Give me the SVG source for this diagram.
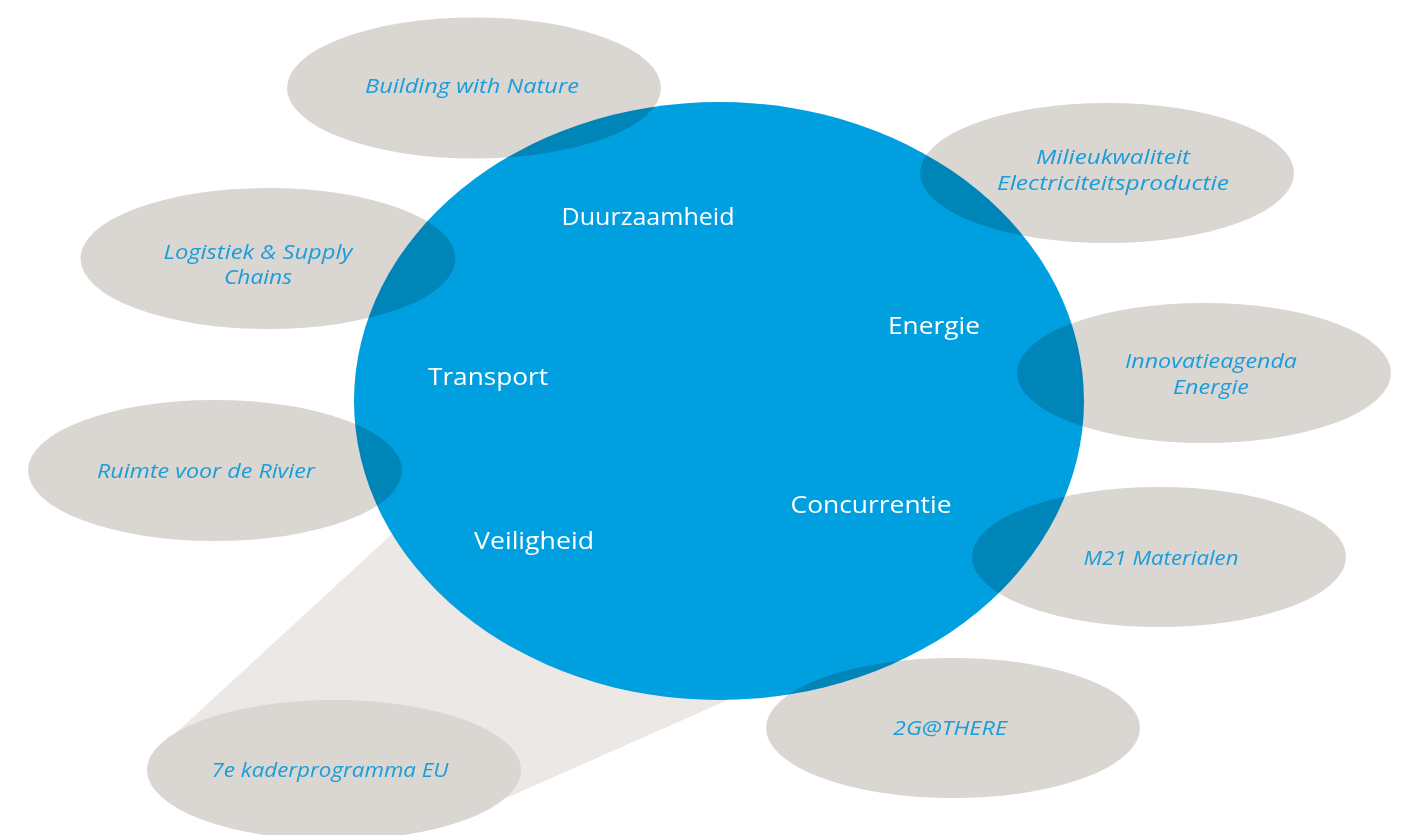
<svg xmlns="http://www.w3.org/2000/svg" width="1410" height="835" viewBox="0 0 1410 835">
<style>
.sat{fill:#DAD6D2;mix-blend-mode:multiply}
.sat0{fill:#DAD6D2}
.core{fill:#009FE0}
.beam{fill:#ECE8E5}
.lbl{font-family:"Open Sans","Liberation Sans",sans-serif;font-style:italic;font-size:20px;fill:#1A9DDA;text-anchor:middle}
.in{font-family:"Open Sans","Liberation Sans",sans-serif;font-size:24px;fill:#FFFFFF;text-anchor:middle}
</style>
<rect width="1410" height="835" fill="#FFFFFF"/>
<g id="connectors">
<polygon class="beam" points="166,742 430,499 780,677 495,803 330,770"/>
</g>
<g id="node-7e">
<ellipse class="sat0" cx="334" cy="770" rx="187" ry="70"/>
<text class="lbl" x="330" y="777" textLength="237" lengthAdjust="spacingAndGlyphs">7e kaderprogramma EU</text>
</g>
<g id="node-center">
<ellipse class="core" cx="719" cy="401" rx="365" ry="299"/>
<text class="in" x="648" y="225" textLength="173" lengthAdjust="spacingAndGlyphs">Duurzaamheid</text>
<text class="in" x="934" y="334" textLength="92" lengthAdjust="spacingAndGlyphs">Energie</text>
<text class="in" x="488" y="385" textLength="120" lengthAdjust="spacingAndGlyphs">Transport</text>
<text class="in" x="871" y="513" textLength="161" lengthAdjust="spacingAndGlyphs">Concurrentie</text>
<text class="in" x="534" y="549" textLength="120" lengthAdjust="spacingAndGlyphs">Veiligheid</text>
</g>
<g id="node-building">
<ellipse class="sat" cx="474" cy="88" rx="187" ry="70.5"/>
<text class="lbl" x="472" y="93" textLength="214" lengthAdjust="spacingAndGlyphs">Building with Nature</text>
</g>
<g id="node-logistiek">
<ellipse class="sat" cx="268" cy="258.5" rx="187.5" ry="70.5"/>
<text class="lbl" x="258" y="259" textLength="189" lengthAdjust="spacingAndGlyphs">Logistiek &amp; Supply</text>
<text class="lbl" x="258" y="284" textLength="68" lengthAdjust="spacingAndGlyphs">Chains</text>
</g>
<g id="node-milieu">
<ellipse class="sat" cx="1107" cy="173" rx="187" ry="70"/>
<text class="lbl" x="1113" y="164" textLength="154" lengthAdjust="spacingAndGlyphs">Milieukwaliteit</text>
<text class="lbl" x="1113" y="190" textLength="232" lengthAdjust="spacingAndGlyphs">Electriciteitsproductie</text>
</g>
<g id="node-innovatie">
<ellipse class="sat" cx="1204" cy="373" rx="187" ry="70"/>
<text class="lbl" x="1211" y="368" textLength="172" lengthAdjust="spacingAndGlyphs">Innovatieagenda</text>
<text class="lbl" x="1211" y="394" textLength="76" lengthAdjust="spacingAndGlyphs">Energie</text>
</g>
<g id="node-ruimte">
<ellipse class="sat" cx="215" cy="470.5" rx="187" ry="70.5"/>
<text class="lbl" x="206" y="478" textLength="218" lengthAdjust="spacingAndGlyphs">Ruimte voor de Rivier</text>
</g>
<g id="node-m21">
<ellipse class="sat" cx="1159" cy="557" rx="187" ry="70"/>
<text class="lbl" x="1161" y="565" textLength="155" lengthAdjust="spacingAndGlyphs">M21 Materialen</text>
</g>
<g id="node-2g">
<ellipse class="sat" cx="953" cy="728" rx="187" ry="70"/>
<text class="lbl" x="950" y="735" textLength="114" lengthAdjust="spacingAndGlyphs">2G@THERE</text>
</g>
</svg>
